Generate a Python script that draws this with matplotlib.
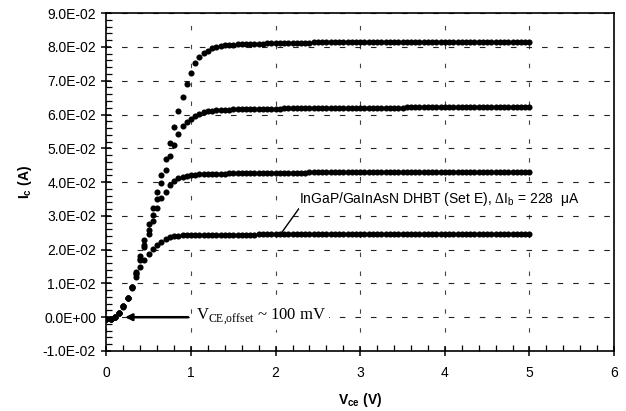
import numpy as np
import matplotlib
matplotlib.use('Agg')
import matplotlib.pyplot as plt
from matplotlib.ticker import MultipleLocator, FuncFormatter

plt.rcParams['font.family'] = ['Liberation Sans', 'DejaVu Sans']
plt.rcParams['mathtext.fontset'] = 'custom'
plt.rcParams['mathtext.rm'] = 'Liberation Serif'
plt.rcParams['mathtext.sf'] = 'Liberation Sans'
plt.rcParams['mathtext.bf'] = 'Liberation Sans:bold'

# Vce sweep, 0 to 5 V in 50 mV steps
vce = np.round(np.arange(0, 101) * 0.05, 2)

# collector current in mA (4 base-current steps)
ic_4 = [-0.5, -0.4, 0.1, 1.3, 3.3, 5.8, 9.0,
        13.5, 18.0, 22.8, 27.5, 32.3, 37.2, 42.0, 46.8, 51.7, 56.3, 61.0, 65.2,
        69.1, 72.3, 75.2, 77.0, 78.1, 78.9, 79.6, 80.1, 80.3, 80.5, 80.6, 80.7,
        80.8, 80.8, 80.9, 80.9, 81.0, 81.0, 81.0, 81.1, 81.1, 81.2,
        81.2, 81.2, 81.2, 81.3, 81.3, 81.3, 81.3, 81.3, 81.4, 81.4,
        81.4, 81.4, 81.4, 81.4, 81.5, 81.5, 81.5, 81.5, 81.5, 81.5,
        81.5, 81.5, 81.5, 81.6, 81.6, 81.6, 81.6, 81.6, 81.6, 81.6,
        81.6, 81.6, 81.6, 81.6, 81.6, 81.6, 81.6, 81.6, 81.6, 81.6,
        81.6, 81.6, 81.6, 81.6, 81.6, 81.6, 81.6, 81.6, 81.6, 81.6,
        81.6, 81.6, 81.6, 81.6, 81.6, 81.6, 81.6, 81.6, 81.6, 81.5]
ic_3 = [-0.5, -0.4, 0.1, 1.3, 3.3, 5.8, 8.9,
        13.0, 17.2, 21.5, 25.8, 30.2, 35.0, 39.7, 43.6, 47.7, 51.1, 54.2, 56.5,
        57.8, 58.8, 59.6, 60.2, 60.6, 60.9, 61.1, 61.2, 61.3, 61.4, 61.4, 61.5,
        61.5, 61.5, 61.6, 61.6, 61.6, 61.6, 61.7, 61.7, 61.7, 61.7,
        61.7, 61.8, 61.8, 61.8, 61.8, 61.8, 61.9, 61.9, 61.9, 61.9,
        61.9, 61.9, 61.9, 62.0, 62.0, 62.0, 62.0, 62.0, 62.0, 62.0,
        62.0, 62.0, 62.0, 62.0, 62.0, 62.0, 62.0, 62.0, 62.0, 62.0,
        62.1, 62.1, 62.1, 62.1, 62.1, 62.1, 62.1, 62.1, 62.1, 62.1,
        62.1, 62.1, 62.1, 62.1, 62.1, 62.1, 62.1, 62.1, 62.1, 62.1,
        62.2, 62.2, 62.2, 62.2, 62.2, 62.2, 62.2, 62.2, 62.2, 62.2]
ic_2 = [-0.5, -0.4, 0.1, 1.2, 3.2, 5.7, 8.8,
        12.8, 16.8, 20.8, 24.5, 28.5, 32.2, 35.2, 37.2, 39.0, 40.3, 41.1, 41.6,
        41.9, 42.1, 42.2, 42.3, 42.3, 42.4, 42.4, 42.5, 42.5, 42.5, 42.6, 42.6,
        42.6, 42.6, 42.6, 42.7, 42.7, 42.7, 42.7, 42.7, 42.7, 42.7,
        42.7, 42.8, 42.8, 42.8, 42.8, 42.8, 42.8, 42.9, 42.9, 42.9,
        42.9, 42.9, 42.9, 42.9, 42.9, 43.0, 43.0, 43.0, 43.0, 43.0,
        43.0, 43.0, 43.0, 43.0, 43.0, 43.0, 43.0, 43.0, 43.0, 43.0,
        43.0, 43.0, 43.0, 43.0, 43.0, 43.0, 43.0, 43.0, 43.0, 43.0,
        43.0, 43.0, 43.0, 43.0, 43.0, 43.0, 43.0, 43.0, 43.0, 43.0,
        43.1, 43.1, 43.1, 43.1, 43.1, 43.1, 43.1, 43.1, 43.1, 43.1]
ic_1 = [-0.5, -0.4, 0.1, 1.2, 3.1, 5.6, 8.6,
        12.0, 14.8, 16.8, 18.6, 20.1, 21.4, 22.4, 23.1, 23.6, 23.9, 24.1, 24.2,
        24.2, 24.3, 24.3, 24.3, 24.4, 24.4, 24.4, 24.4, 24.4, 24.4, 24.4, 24.4,
        24.4, 24.4, 24.4, 24.4, 24.4, 24.5, 24.5, 24.5, 24.5, 24.5,
        24.5, 24.5, 24.5, 24.5, 24.5, 24.5, 24.5, 24.5, 24.5, 24.5,
        24.5, 24.5, 24.5, 24.5, 24.5, 24.5, 24.5, 24.5, 24.5, 24.5,
        24.5, 24.5, 24.5, 24.5, 24.5, 24.5, 24.5, 24.5, 24.5, 24.5,
        24.6, 24.6, 24.6, 24.6, 24.6, 24.6, 24.6, 24.6, 24.6, 24.6,
        24.6, 24.6, 24.6, 24.6, 24.6, 24.6, 24.6, 24.6, 24.6, 24.6,
        24.7, 24.7, 24.7, 24.7, 24.7, 24.7, 24.7, 24.7, 24.7, 24.7]

curves = [ic_1, ic_2, ic_3, ic_4]

fig = plt.figure(figsize=(6.26, 4.11), dpi=100)
ax = fig.add_axes([0.170, 0.146, 0.811, 0.822])

for ic in curves:
    ax.plot(vce, np.array(ic) / 1000.0, 'o', color='black', markersize=4.4,
            markeredgewidth=0, zorder=3)

ax.set_xlim(0, 6)
ax.set_ylim(-0.01, 0.09)
ax.xaxis.set_major_locator(MultipleLocator(1))
ax.xaxis.set_minor_locator(MultipleLocator(0.2))
ax.yaxis.set_major_locator(MultipleLocator(0.01))
ax.yaxis.set_minor_locator(MultipleLocator(0.002))
ax.yaxis.set_major_formatter(FuncFormatter(
    lambda v, p: '%.1E' % v if abs(v) > 1e-9 else '0.0E+00'))

ax.tick_params(which='major', direction='inout', length=7, width=1.1,
               labelsize=10, pad=4)
ax.tick_params(which='minor', direction='in', length=4, width=0.9)
ax.tick_params(axis='x', which='major', pad=7)
for s in ax.spines.values():
    s.set_linewidth(1.2)

ax.grid(True, which='major', axis='y', color='#222222', linestyle=(0, (5, 9)),
        linewidth=0.8)
ax.grid(True, which='major', axis='x', color='#444444', linestyle=(0, (4, 13)),
        linewidth=0.8)
ax.set_axisbelow(True)

ax.set_xlabel(r'$\mathbf{V_{ce}}$ (V)', fontsize=10, fontweight='bold', labelpad=8)
ax.set_ylabel(r'$\mathbf{I_c}$ (A)', fontsize=10, fontweight='bold', labelpad=6)

ax.annotate('InGaP/GaInAsN DHBT (Set E), ' + r'$\Delta$I$_\mathsf{b}$ = 228  ' + '\u03bcA',
            xy=(2.07, 0.0250), xytext=(2.28, 0.0350), fontsize=10,
            va='center', ha='left', zorder=4,
            bbox=dict(boxstyle='square,pad=0.05', fc='white', ec='none'),
            arrowprops=dict(arrowstyle='-', color='black', lw=1.0,
                            shrinkA=0, shrinkB=0, relpos=(0, 0.0)))

ax.annotate(r'V$_{\rm CE{,}offset}$ ~ 100 mV', xy=(0.22, 0.0), xytext=(1.06, 0.0),
            fontsize=12, family='Liberation Serif', va='center', ha='left',
            zorder=4,
            bbox=dict(boxstyle='square,pad=0.15', fc='white', ec='none'),
            arrowprops=dict(arrowstyle='-|>', color='black', lw=1.8,
                            mutation_scale=10, shrinkA=4, shrinkB=0))

fig.savefig('out.png', dpi=100)
